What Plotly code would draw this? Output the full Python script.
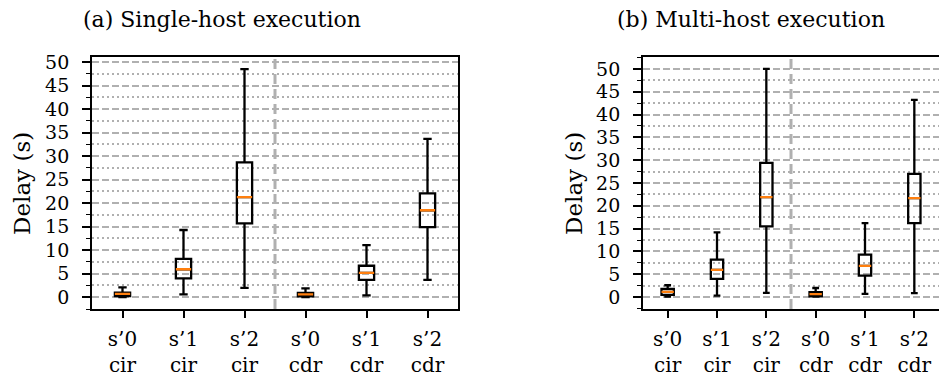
import plotly.graph_objects as go

# ---------------- data ----------------
categories = ["s’0<br>cir", "s’1<br>cir", "s’2<br>cir", "s’0<br>cdr", "s’1<br>cdr", "s’2<br>cdr"]
positions = [1, 2, 3, 4, 5, 6]

single_lower = [0.05, 0.6, 2.0, 0.05, 0.4, 3.7]
single_q1 = [0.25, 4.0, 15.7, 0.2, 3.7, 14.9]
single_median = [0.7, 5.95, 21.3, 0.6, 5.2, 18.5]
single_q3 = [1.0, 8.15, 28.7, 0.95, 6.7, 22.1]
single_upper = [2.1, 14.3, 48.5, 1.9, 11.1, 33.7]

multi_lower = [0.1, 0.35, 0.94, 0.1, 0.7, 0.87]
multi_q1 = [0.5, 4.0, 15.5, 0.15, 4.7, 16.2]
multi_median = [1.15, 5.97, 21.9, 0.66, 6.85, 21.7]
multi_q3 = [1.8, 8.2, 29.4, 1.1, 9.3, 27.0]
multi_upper = [2.6, 14.2, 50.0, 2.0, 16.2, 43.2]

y_ticks = [0, 5, 10, 15, 20, 25, 30, 35, 40, 45, 50]
titles = ["(a) Single-host execution", "(b) Multi-host execution"]
y_title = "Delay (s)"
separator_x = 3.5

FONT = "DejaVu Serif"
GRID = "#b0b0b0"
BOX_W = 0.25

fig = go.Figure()

def add_panel(xa, ya, lo, q1, med, q3, up):
    fig.add_trace(go.Box(
        x=positions, q1=q1, median=med, q3=q3, lowerfence=lo, upperfence=up,
        width=BOX_W, whiskerwidth=0.55, boxpoints=False,
        line=dict(color="black", width=2.3), fillcolor="rgba(0,0,0,0)",
        xaxis=xa, yaxis=ya, showlegend=False, hoverinfo="skip"))
    fig.add_trace(go.Box(
        x=positions, q1=med, median=med, q3=med, lowerfence=med, upperfence=med,
        width=BOX_W, whiskerwidth=0, boxpoints=False,
        line=dict(color="#ff7f0e", width=2.3), fillcolor="rgba(0,0,0,0)",
        xaxis=xa, yaxis=ya, showlegend=False, hoverinfo="skip"))

add_panel("x", "y", single_lower, single_q1, single_median, single_q3, single_upper)
add_panel("x2", "y2", multi_lower, multi_q1, multi_median, multi_q3, multi_upper)

W, H = 939, 386

def xaxis(domain, anchor):
    return dict(domain=domain, range=[0.5, 6.5], anchor=anchor, automargin=False,
                tickmode="array", tickvals=positions,
                ticktext=categories, ticks="outside", ticklen=7, tickwidth=1.5,
                tickcolor="black", showline=True, linecolor="black", linewidth=1.8,
                mirror=True, showgrid=False, zeroline=False, ticklabelstandoff=4,
                tickfont=dict(family=FONT, size=20, color="black"))

def yaxis(rng, anchor):
    return dict(domain=[(H - 309) / H, (H - 57) / H], range=rng, anchor=anchor,
                automargin=False,
                tickmode="array", tickvals=y_ticks, ticks="outside", ticklen=8,
                tickwidth=1.5, tickcolor="black", showline=True, linecolor="black",
                linewidth=1.8, mirror=True, zeroline=False,
                showgrid=True, gridcolor=GRID, gridwidth=1.6, griddash="7px,3px",
                minor=dict(dtick=2.5, tick0=0, ticks="outside", ticklen=4, tickwidth=1.2,
                           tickcolor="black", showgrid=True, gridcolor=GRID,
                           gridwidth=1.5, griddash="1.5px,3.5px"),
                ticklabelstandoff=9,
                tickfont=dict(family=FONT, size=19, color="black"))

fig.update_layout(
    width=W, height=H, margin=dict(l=0, r=0, t=0, b=0, autoexpand=False),
    paper_bgcolor="white", plot_bgcolor="white", boxmode="overlay",
    xaxis=xaxis([92 / W, 458 / W], "y"),
    yaxis=yaxis([-2.5, 51.1], "x"),
    xaxis2=xaxis([643 / W, 1.0], "y2"),
    yaxis2=yaxis([-2.6, 52.6], "x2"),
)

for xr, yr in (("x", "y"), ("x2", "y2")):
    fig.add_shape(type="line", xref=xr, yref=f"{yr} domain", x0=separator_x, x1=separator_x,
                  y0=0, y1=1, line=dict(color=GRID, width=3, dash="10px,5px"), layer="below")

for txt, cx in zip(titles, [222 / W, 751 / W]):
    fig.add_annotation(text=txt, x=cx, y=1 - 20 / H, xref="paper", yref="paper",
                       showarrow=False, xanchor="center", yanchor="middle",
                       font=dict(family=FONT, size=22, color="black"))
for cx in (22 / W, 574 / W):
    fig.add_annotation(text=y_title, x=cx, y=1 - 184 / H, xref="paper", yref="paper",
                       showarrow=False, xanchor="center", yanchor="middle", textangle=-90,
                       font=dict(family=FONT, size=23, color="black"))

fig.write_html("out.html", config={"displayModeBar": False},
               post_script="document.body.style.margin='0';document.body.style.overflow='hidden';")
